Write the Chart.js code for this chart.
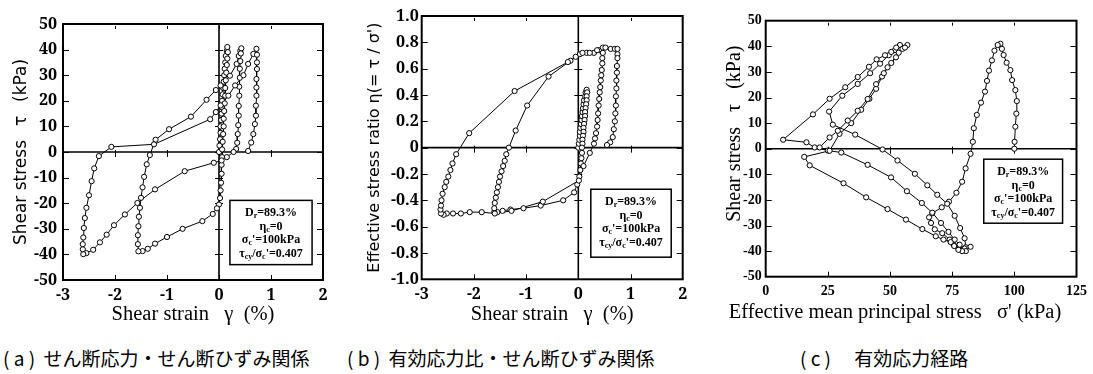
<!DOCTYPE html>
<html lang="ja">
<head>
<meta charset="utf-8">
<script src="https://cdn.jsdelivr.net/npm/chart.js@4.4.1/dist/chart.umd.min.js"></script>
<style>
  html, body { margin: 0; padding: 0; background: #fff; }
  #page { position: relative; width: 1093px; height: 374px; overflow: hidden; }
  canvas { position: absolute; top: 0; }
  .legende {
    position: absolute; top: 348px; line-height: 19px;
    font-family: "Noto Sans CJK JP"; font-size: 19px; color: #000; white-space: pre;
  }
</style>
</head>
<body>
<div id="page">
  <canvas id="panneau-a" width="362" height="335" style="left:0"></canvas>
  <canvas id="panneau-b" width="360" height="335" style="left:362px"></canvas>
  <canvas id="panneau-c" width="371" height="335" style="left:722px"></canvas>
  <div class="legende" style="left:3px">( a )  せん断応力・せん断ひずみ関係</div>
  <div class="legende" style="left:347px">( b )  有効応力比・せん断ひずみ関係</div>
  <div class="legende" style="left:800px">( c )　 有効応力経路</div>
</div>
<script>
// (a) deformation de cisaillement gamma (%) / contrainte tau (kPa)
const cheminA = [
  [0, 0], [0.01, 2.5], [0.02, 5], [0.03, 7.5], [0.03, 10], [0.04, 12.5], [0.05, 15], [0.05, 17.5],
  [0.06, 20], [0.07, 22.5], [0.08, 25], [0.09, 27.5], [0.1, 30], [0.11, 32.5], [0.12, 35], [0.13, 37.5],
  [0.15, 39.5], [0.16, 41],
  [0.17, 39], [0.16, 36.5], [0.15, 34], [0.14, 31], [0.13, 28], [0.12, 25], [0.12, 22], [0.11, 19],
  [0.1, 16], [0.09, 13], [0.09, 10], [0.08, 7], [0.07, 4], [0.06, 1], [0.06, -2], [0.05, -5],
  [0.05, -8.5], [0.04, -12], [0.03, -15], [0.02, -18], [0, -20.5], [-0.04, -22], [-0.12, -24.2],
  [-0.32, -27], [-0.7, -30], [-1.0, -33.2], [-1.23, -35.8], [-1.37, -37.8], [-1.47, -38.7], [-1.55, -38.8],
  [-1.56, -36], [-1.56, -32.5], [-1.55, -29], [-1.54, -25.3], [-1.52, -21.8], [-1.5, -17.9], [-1.47, -13.8],
  [-1.44, -9.7], [-1.39, -4.8], [-1.33, -1.2], [-1.22, 4.8], [-0.96, 8.9], [-0.54, 13.8], [-0.24, 20.4],
  [-0.06, 24.2], [0.03, 26], [0.21, 29.8], [0.34, 34.4], [0.38, 37.5], [0.41, 39.5], [0.43, 40.5],
  [0.42, 38.5], [0.41, 35.5], [0.4, 32.5], [0.4, 29], [0.39, 25.5], [0.39, 22], [0.38, 18], [0.38, 14.2],
  [0.37, 10.5], [0.36, 7], [0.35, 3.6], [0.33, 1.2], [0.28, 0], [0.15, -2], [0.05, -3.3], [-0.1, -4.2],
  [-0.66, -7.5], [-1.23, -14.6], [-1.57, -19.9], [-1.81, -24.4], [-2.02, -28.6], [-2.16, -32.3],
  [-2.29, -35.3], [-2.42, -38.2], [-2.55, -39.5], [-2.61, -39.9],
  [-2.62, -38], [-2.62, -36], [-2.61, -33.4], [-2.6, -29.7], [-2.58, -25.8], [-2.55, -21.8], [-2.5, -16.9],
  [-2.45, -11.4], [-2.4, -6.4], [-2.31, -1.6], [-2.07, 2], [-1.25, 3], [-0.17, 12.8], [-0.06, 15.6],
  [0.03, 18.2], [0.18, 22], [0.31, 26], [0.47, 30], [0.56, 34.4], [0.66, 38.3], [0.72, 40.3],
  [0.73, 38], [0.73, 35], [0.73, 32.4], [0.72, 28.5], [0.72, 25.2], [0.72, 22], [0.71, 18.1], [0.71, 14.2],
  [0.69, 10.9], [0.66, 7], [0.62, 3.7], [0.56, 0.4],
];

// (b) deformation gamma (%) / rapport de contraintes effectives eta
const cheminB = [
  [0, 0], [0.01, 0.03], [0.02, 0.06], [0.03, 0.09], [0.03, 0.12], [0.04, 0.15], [0.05, 0.18], [0.06, 0.21],
  [0.07, 0.24], [0.08, 0.27], [0.09, 0.3], [0.1, 0.33], [0.11, 0.36], [0.13, 0.39], [0.14, 0.42], [0.16, 0.44],
  [0.17, 0.42], [0.16, 0.39], [0.16, 0.36], [0.15, 0.33], [0.14, 0.3], [0.13, 0.27], [0.13, 0.24], [0.12, 0.21],
  [0.11, 0.18], [0.1, 0.15], [0.1, 0.12], [0.09, 0.09], [0.08, 0.06], [0.08, 0.03], [0.07, 0], [0.07, -0.04],
  [0.06, -0.08], [0.05, -0.12], [0.04, -0.17], [0.02, -0.22], [-0.02, -0.28], [-0.08, -0.34], [-0.29, -0.4],
  [-0.72, -0.44], [-1.05, -0.46], [-1.3, -0.47], [-1.45, -0.48], [-1.55, -0.49], [-1.61, -0.49],
  [-1.61, -0.46], [-1.6, -0.42], [-1.58, -0.38], [-1.56, -0.34], [-1.54, -0.3], [-1.52, -0.26], [-1.5, -0.22],
  [-1.47, -0.18], [-1.44, -0.14], [-1.41, -0.1], [-1.38, -0.05], [-1.33, 0], [-1.2, 0.13], [-0.98, 0.32],
  [-0.57, 0.54], [-0.15, 0.66], [0.03, 0.71], [0.16, 0.72], [0.3, 0.72], [0.4, 0.74], [0.47, 0.76],
  [0.47, 0.72], [0.46, 0.68], [0.46, 0.64], [0.45, 0.59], [0.44, 0.55], [0.43, 0.51], [0.42, 0.46],
  [0.41, 0.42], [0.4, 0.37], [0.39, 0.32], [0.38, 0.26], [0.37, 0.21], [0.36, 0.16], [0.34, 0.11],
  [0.32, 0.07], [0.3, 0.03], [0.22, -0.04], [0.1, -0.14], [0.01, -0.25], [-0.68, -0.41], [-1.28, -0.48],
  [-1.6, -0.5], [-1.85, -0.49], [-2.08, -0.49], [-2.25, -0.5], [-2.4, -0.5], [-2.52, -0.5], [-2.58, -0.51],
  [-2.63, -0.5],
  [-2.64, -0.47], [-2.63, -0.44], [-2.62, -0.4], [-2.6, -0.35], [-2.56, -0.3], [-2.53, -0.26], [-2.49, -0.22],
  [-2.45, -0.17], [-2.41, -0.12], [-2.34, -0.05], [-2.09, 0.11], [-1.22, 0.43], [-0.2, 0.65], [-0.05, 0.69],
  [0.08, 0.72], [0.22, 0.72], [0.36, 0.74], [0.52, 0.76], [0.62, 0.75], [0.7, 0.75], [0.75, 0.75],
  [0.75, 0.71], [0.75, 0.68], [0.74, 0.62], [0.74, 0.57], [0.73, 0.51], [0.73, 0.45], [0.72, 0.39],
  [0.72, 0.32], [0.71, 0.26], [0.7, 0.2], [0.68, 0.14], [0.66, 0.08], [0.61, 0.04], [0.55, 0.02],
];

// (c) contrainte moyenne effective sigma' (kPa) / contrainte tau (kPa)
const cheminC = [
  [100, 0], [100.1, 2.7], [100.4, 8.6], [100.8, 13.7], [101, 18.6], [100.4, 22.9], [99.1, 26.8], [98.4, 30.7],
  [96.9, 33.6], [95.7, 36.6], [95, 39], [94.4, 41],
  [93.3, 40.5], [92, 38.3], [91, 34.5], [89.8, 30.5], [89, 26.5], [88.2, 22.3], [86.6, 18], [84.9, 13.2],
  [83.7, 8], [83.3, 2.7], [82.4, -2], [80.4, -7.7], [79, -12.9], [76.7, -17.2], [73.7, -20.7], [70.8, -22.9],
  [67, -25.2], [65.7, -26.8], [66.5, -29], [68, -31.5], [71, -33], [74, -35.5], [75.6, -37.5], [77.5, -39],
  [79, -39.5],
  [80.5, -38.5], [80, -35], [78.2, -31], [76, -26.2], [73, -21.5], [69, -18], [65, -14.3], [60, -9.8],
  [53, -4.6], [47, -0.3], [36, 5.5], [27, 9.4], [25.5, 14.5], [30.8, 20.7], [37, 25.3], [42, 29.5],
  [46, 33.2], [49.5, 36.5], [52, 38.5], [54, 40.5],
  [52.5, 39.5], [50.5, 37.8], [48, 36.5], [44.6, 34.9], [41.5, 32], [37, 28], [32, 24], [25.7, 19.5],
  [19, 13.4], [7, 3.5], [16.4, 2.5], [19.7, 0.5], [25, -0.7], [30.4, -1.5], [41, -6.3], [50.4, -11.2],
  [56.8, -16.6], [62.8, -21.2], [67, -25], [70.5, -29], [73.5, -32.5], [76, -35.5], [78, -37.5], [80, -39],
  [82.4, -38.3],
  [80.5, -40], [79, -40], [77.5, -39.5], [75.8, -38], [74.4, -36.5], [71.5, -35.5], [68.4, -34.2],
  [63, -31.4], [56.4, -27.7], [49, -23.6], [40.4, -19], [31.3, -13.5], [17.7, -6.5], [15.5, -3.2],
  [25.7, -0.8], [29.7, 5.8], [34.4, 10], [38.4, 15.2], [41.7, 19.5], [44.4, 23.4], [46.8, 28.2], [49, 31.8],
  [52.4, 35.7], [55, 39], [57, 40.5],
  [56, 39.5], [53.5, 37.5], [50.5, 33.5], [47.5, 29.5], [44.4, 25.2], [41, 19.4], [37, 14.8], [33, 11],
  [29, 7], [25.7, 4.4], [21.7, 0.5],
];

// bornes et pas des axes : [min, max, pas]
const axeDeformation = [-3, 2, 1];
const axeContrainte = [-50, 50, 10];
const axeRapport = [-1, 1, 0.2];
const axeContrainteMoyenne = [0, 125, 25];

// conditions d'essai : [texte, indice]
const conditionsEssai = [
  [['D'], ['r', true], ['=89.3%']],
  [['η'], ['c', true], ['=0']],
  [['σ'], ['c', true], ['\'=100kPa']],
  [['τ'], ['cy', true], ['/σ'], ['c', true], ['\'=0.407']],
];

const PALETTE = {
  NOIR: '#000',
  BLANC: '#fff',
};

const cadre = {
  id: 'cadre',
  beforeDatasetsDraw(chart, _args, options) {
    const { ctx, chartArea: { left, right, top, bottom }, scales: { x, y } } = chart;
    const y0 = y.getPixelForValue(0);
    const x0 = x.getPixelForValue(0);
    ctx.save();
    ctx.strokeStyle = PALETTE.NOIR;
    ctx.lineWidth = 1.6;
    ctx.beginPath();
    ctx.moveTo(left, y0);
    ctx.lineTo(right, y0);
    if (options.axeVertical) {
      ctx.moveTo(x0, top);
      ctx.lineTo(x0, bottom);
    }
    ctx.stroke();

    ctx.lineWidth = 1;
    ctx.beginPath();
    x.ticks.slice(1, -1).forEach(({ value }) => {
      const px = Math.round(x.getPixelForValue(value)) + 0.5;
      ctx.moveTo(px, bottom);
      ctx.lineTo(px, bottom - 5);
      ctx.moveTo(px, top + 2);
      ctx.lineTo(px, top + 5);
      ctx.moveTo(px, y0 - 2);
      ctx.lineTo(px, y0 + 5);
    });
    y.ticks.slice(1, -1).forEach(({ value }) => {
      const py = Math.round(y.getPixelForValue(value)) + 0.5;
      ctx.moveTo(left, py);
      ctx.lineTo(left + 6, py);
      ctx.moveTo(right, py);
      ctx.lineTo(right - 6, py);
      if (options.axeVertical) {
        ctx.moveTo(x0 - 4, py);
        ctx.lineTo(x0 + 4, py);
      }
    });
    ctx.stroke();
    ctx.restore();
  },
  afterDatasetsDraw(chart, _args, options) {
    const { ctx, chartArea: { left, right, top, bottom }, scales: { x, y } } = chart;
    ctx.save();
    ctx.strokeStyle = PALETTE.NOIR;
    ctx.lineWidth = 2;
    ctx.strokeRect(left, top, right - left, bottom - top);

    const { encadre, titreLibre } = options;
    const bx1 = x.getPixelForValue(encadre.x[0]);
    const bx2 = x.getPixelForValue(encadre.x[1]);
    const by1 = y.getPixelForValue(encadre.y[0]);
    const by2 = y.getPixelForValue(encadre.y[1]);
    ctx.fillStyle = PALETTE.BLANC;
    ctx.fillRect(bx1, by1, bx2 - bx1, by2 - by1);
    ctx.lineWidth = 1.5;
    ctx.strokeRect(bx1, by1, bx2 - bx1, by2 - by1);

    const police = '"Liberation Serif", serif';
    const centre = (bx1 + bx2) / 2;
    ctx.fillStyle = PALETTE.NOIR;
    ctx.textBaseline = 'middle';
    ctx.textAlign = 'left';
    conditionsEssai.forEach((segments, i) => {
      const ligneY = by1 + 13 + i * 13.5;
      const largeurs = segments.map(([texte, indice]) => {
        ctx.font = indice ? `bold 8px ${police}` : `bold 12px ${police}`;
        return ctx.measureText(texte).width;
      });
      let curseur = centre - largeurs.reduce((a, b) => a + b, 0) / 2;
      segments.forEach(([texte, indice], j) => {
        ctx.font = indice ? `bold 8px ${police}` : `bold 12px ${police}`;
        ctx.fillText(texte, curseur, indice ? ligneY + 3 : ligneY);
        curseur += largeurs[j];
      });
    });

    // titre de l'axe x plus large que la zone du graphique (panneau c)
    if (titreLibre) {
      ctx.font = `${titreLibre.taille}px ${titreLibre.famille}`;
      ctx.textAlign = 'center';
      ctx.fillText(titreLibre.texte, x.getPixelForValue(titreLibre.centre), bottom + titreLibre.ecart);
    }
    ctx.restore();
  },
};

const formatDecimal = (valeur) => (Math.abs(valeur) < 1e-9 ? '0' : valeur.toFixed(1));

const dessinePanneau = (idCanevas, {
  points,
  axeX,
  axeY,
  titreX,
  titreY,
  policeTicks,
  policeTitreX,
  policeTitreY,
  marges,
  largeurAxeY,
  hauteurAxeX,
  ecartTicksY,
  ecartTicksX = 6,
  ecartTitreY,
  ecartTitreX,
  formatY,
  axeVertical,
  encadre,
  titreLibre = null,
}) => {
  /* eslint-disable no-new */
  new Chart(document.getElementById(idCanevas), {
    type: 'scatter',
    plugins: [cadre],
    data: {
      datasets: [{
        data: points.map(([x, y]) => ({ x, y })),
        showLine: true,
        borderColor: PALETTE.NOIR,
        borderWidth: 1,
        pointRadius: 2.6,
        pointBorderWidth: 1,
        pointBorderColor: PALETTE.NOIR,
        pointBackgroundColor: PALETTE.BLANC,
        tension: 0,
      }],
    },
    options: {
      responsive: false,
      animation: false,
      events: [],
      layout: { padding: marges },
      plugins: {
        legend: { display: false },
        tooltip: { enabled: false },
        cadre: { axeVertical, encadre, titreLibre },
      },
      scales: {
        x: {
          type: 'linear',
          min: axeX[0],
          max: axeX[1],
          ticks: {
            stepSize: axeX[2],
            autoSkip: false,
            maxRotation: 0,
            color: PALETTE.NOIR,
            font: policeTicks,
            padding: ecartTicksX,
          },
          grid: { display: false, drawTicks: false },
          border: { display: false },
          title: {
            display: !titreLibre,
            text: titreX,
            color: PALETTE.NOIR,
            font: policeTitreX,
            padding: { top: 0, bottom: ecartTitreX },
          },
          afterFit: (echelle) => { echelle.height = hauteurAxeX; },
        },
        y: {
          type: 'linear',
          min: axeY[0],
          max: axeY[1],
          ticks: {
            stepSize: axeY[2],
            autoSkip: false,
            color: PALETTE.NOIR,
            font: policeTicks,
            padding: ecartTicksY,
            callback: formatY,
          },
          grid: { display: false, drawTicks: false },
          border: { display: false },
          title: {
            display: true,
            text: titreY,
            color: PALETTE.NOIR,
            font: policeTitreY,
            padding: { top: ecartTitreY, bottom: 0 },
          },
          afterFit: (echelle) => { echelle.width = largeurAxeY; },
        },
      },
    },
  });
  /* eslint-enable no-new */
};

const TICKS_SERIF = { family: '"Noto Serif"', size: 16, weight: 'bold' };
const TITRE_X = { family: '"Liberation Serif"', size: 20.5, weight: 'normal' };

dessinePanneau('panneau-a', {
  points: cheminA,
  axeX: axeDeformation,
  axeY: axeContrainte,
  titreX: 'Shear strain\u2002 γ\u2002(%)',
  titreY: 'Shear stress\u2002 τ \u2002(kPa)',
  policeTicks: TICKS_SERIF,
  policeTitreX: TITRE_X,
  policeTitreY: { family: '"DejaVu Sans"', size: 17, weight: 'normal' },
  marges: { left: 3, right: 39, top: 24, bottom: 0 },
  largeurAxeY: 60,
  hauteurAxeX: 55,
  ecartTicksY: 6,
  ecartTitreY: 8.8,
  ecartTitreX: 7.7,
  formatY: (valeur) => `${valeur}`,
  axeVertical: true,
  encadre: { x: [0.21, 1.79], y: [-18.9, -44] },
});

dessinePanneau('panneau-b', {
  points: cheminB,
  axeX: axeDeformation,
  axeY: axeRapport,
  titreX: 'Shear strain\u2002 γ\u2002(%)',
  titreY: 'Effective stress ratio η(= τ / σ\')',
  policeTicks: TICKS_SERIF,
  policeTitreX: TITRE_X,
  policeTitreY: { family: '"DejaVu Sans"', size: 16, weight: 'normal' },
  marges: { left: 0, right: 39.3, top: 16, bottom: 0 },
  largeurAxeY: 59.7,
  hauteurAxeX: 55.7,
  ecartTicksY: 3,
  ecartTitreY: 3.4,
  ecartTitreX: 7.7,
  formatY: formatDecimal,
  axeVertical: true,
  encadre: { x: [0.24, 1.78], y: [-0.316, -0.832] },
});

dessinePanneau('panneau-c', {
  points: cheminC,
  axeX: axeContrainteMoyenne,
  axeY: axeContrainte,
  titreX: 'Effective mean principal stress\u2002 σ\' (kPa)',
  titreY: '\u2002\u2002\u2002Shear stress\u2002 τ \u2002(kPa)',
  policeTicks: { family: '"Liberation Serif"', size: 14, weight: 'bold' },
  policeTitreX: TITRE_X,
  policeTitreY: { family: '"Liberation Serif"', size: 20, weight: 'normal' },
  marges: { left: 0, right: 14, top: 20.7, bottom: 0 },
  largeurAxeY: 43.7,
  hauteurAxeX: 58.3,
  ecartTicksY: 4,
  ecartTitreY: 1,
  ecartTitreX: 9.7,
  formatY: (valeur) => `${valeur}`,
  axeVertical: false,
  encadre: { x: [87.7, 119.4], y: [-4.1, -29.1] },
  titreLibre: {
    texte: 'Effective mean principal stress\u2002 σ\' (kPa)',
    famille: '"Liberation Serif"',
    taille: 20.5,
    centre: 52,
    ecart: 36,
  },
});
</script>
</body>
</html>
